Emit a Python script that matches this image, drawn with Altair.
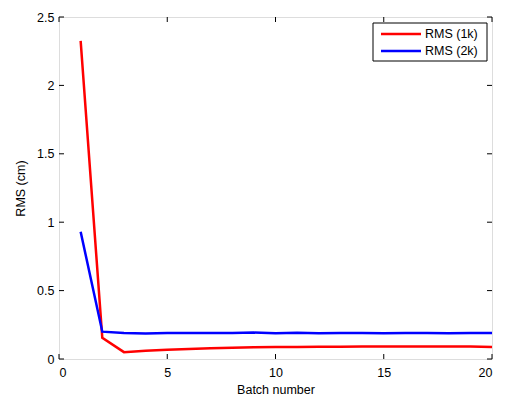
import altair as alt
import pandas as pd

batch = list(range(1, 21))
rms_1k = [2.325, 0.155, 0.05, 0.06, 0.068, 0.074, 0.078, 0.082, 0.085, 0.087,
          0.088, 0.09, 0.09, 0.091, 0.091, 0.091, 0.092, 0.092, 0.092, 0.088]
rms_2k = [0.93, 0.2, 0.19, 0.187, 0.19, 0.19, 0.19, 0.19, 0.193, 0.188,
          0.191, 0.189, 0.19, 0.19, 0.189, 0.19, 0.19, 0.188, 0.19, 0.19]
series_names = ["RMS (1k)", "RMS (2k)"]
series_colors = ["#ff0000", "#0000ff"]
x_ticks = [0, 5, 10, 15, 20]
y_ticks = [0, 0.5, 1, 1.5, 2, 2.5]

W, H = 433, 342
FONT = "Liberation Sans"
FS = 12.5

df = pd.DataFrame({
    "batch": batch * 2,
    "rms": rms_1k + rms_2k,
    "series": [series_names[0]] * len(batch) + [series_names[1]] * len(batch),
})

xs = alt.Scale(domain=[0, 20], nice=False, zero=False)
ys = alt.Scale(domain=[0, 2.5], nice=False)
common = dict(grid=False, ticks=False, domain=False,
              labelFont=FONT, labelFontSize=FS, labelColor="black",
              titleFont=FONT, titleFontSize=FS, titleFontWeight="normal",
              titleColor="black")
x_axis = alt.Axis(values=x_ticks, format="d", labelPadding=7, titlePadding=5, **common)
y_axis = alt.Axis(values=y_ticks, labelPadding=5, titlePadding=9,
                  labelExpr="datum.value == 0 ? '0' : datum.value", **common)

lines = alt.Chart(df).mark_line(strokeWidth=2.5).encode(
    x=alt.X("batch:Q", scale=xs, title="Batch number", axis=x_axis),
    y=alt.Y("rms:Q", scale=ys, title="RMS (cm)", axis=y_axis),
    color=alt.Color("series:N",
                    scale=alt.Scale(domain=series_names, range=series_colors),
                    legend=None),
)

xt = pd.DataFrame({"xt": x_ticks})
yt = pd.DataFrame({"yt": y_ticks})
tick_bottom = alt.Chart(xt).mark_rule(color="black").encode(
    x=alt.X("xt:Q", scale=xs, title="Batch number", axis=x_axis),
    y=alt.value(H), y2=alt.value(H - 5))
tick_top = alt.Chart(xt).mark_rule(color="black").encode(
    x=alt.X("xt:Q", scale=xs, title="Batch number", axis=x_axis),
    y=alt.value(0), y2=alt.value(5))
tick_left = alt.Chart(yt).mark_rule(color="black").encode(
    y=alt.Y("yt:Q", scale=ys, title="RMS (cm)", axis=y_axis),
    x=alt.value(0), x2=alt.value(5))
tick_right = alt.Chart(yt).mark_rule(color="black").encode(
    y=alt.Y("yt:Q", scale=ys, title="RMS (cm)", axis=y_axis),
    x=alt.value(W), x2=alt.value(W - 5))

# legend (drawn manually, MATLAB style)
one = pd.DataFrame({"a": [0]})
LX0, LX1, LY0, LY1 = 314, 428, 6, 44
legend_layers = [
    alt.Chart(one).mark_rect(fill="white", stroke="black", strokeWidth=1).encode(
        x=alt.value(LX0), x2=alt.value(LX1), y=alt.value(LY0), y2=alt.value(LY1))
]
for i, (name, col) in enumerate(zip(series_names, series_colors)):
    ry = 17 + i * 17
    legend_layers.append(
        alt.Chart(one).mark_rule(color=col, strokeWidth=2.5).encode(
            x=alt.value(322), x2=alt.value(362), y=alt.value(ry)))
    legend_layers.append(
        alt.Chart(one).mark_text(align="left", baseline="middle", font=FONT,
                                 fontSize=FS, color="black").encode(
            x=alt.value(366), y=alt.value(ry), text=alt.value(name)))

chart = alt.layer(lines, tick_bottom, tick_top, tick_left, tick_right,
                  *legend_layers).properties(
    width=W, height=H,
    autosize=alt.AutoSizeParams(type="none"),
    padding={"left": 51, "top": 9, "right": 20, "bottom": 40},
).configure_view(
    stroke="black", strokeWidth=1.2
).configure(background="white")

chart.save("out.html", embed_options={"renderer": "svg", "actions": False})
